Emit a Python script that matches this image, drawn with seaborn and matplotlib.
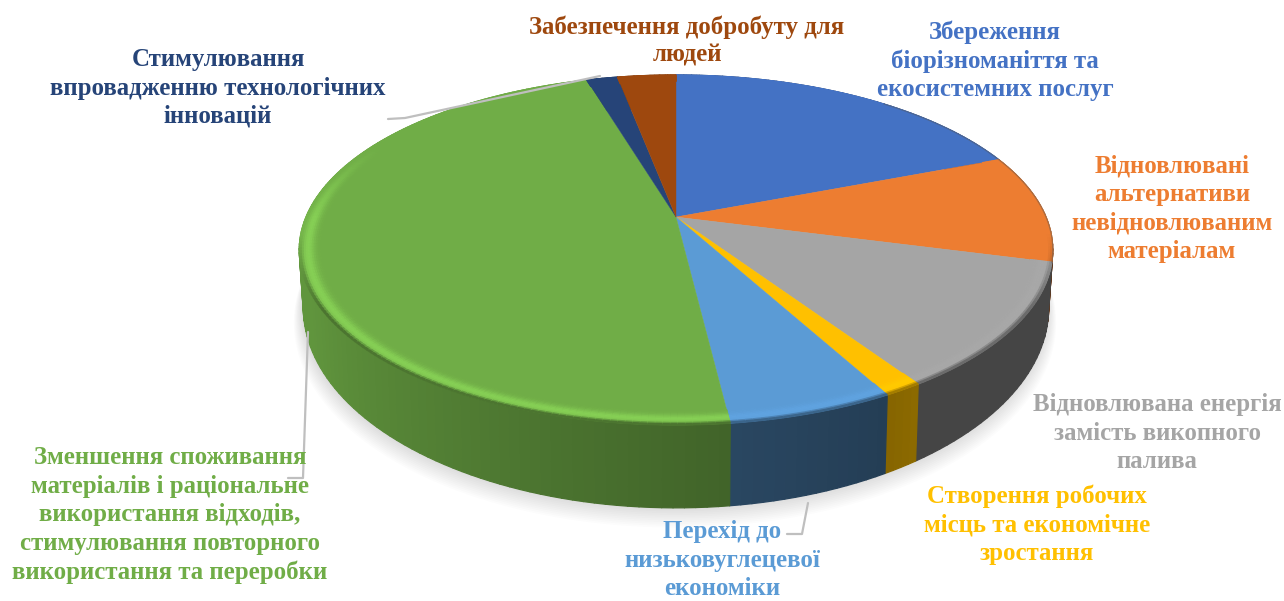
import numpy as np
import matplotlib
matplotlib.use("Agg")
import matplotlib.pyplot as plt
from matplotlib.collections import PolyCollection
import seaborn as sns

labels = [
    "Збереження\nбіорізноманіття та\nекосистемних послуг",
    "Відновлювані\nальтернативи\nневідновлюваним\nматеріалам",
    "Відновлювана енергія\nзамість викопного\nпалива",
    "Створення робочих\nмісць та економічне\nзростання",
    "Перехід до\nнизьковуглецевої\nекономіки",
    "Зменшення споживання\nматеріалів і раціональне\nвикористання відходів,\nстимулювання повторного\nвикористання та переробки",
    "Стимулювання\nвпровадженню технологічних\nінновацій",
    "Забезпечення добробуту для\nлюдей",
]
values = [19.1, 10.0, 11.6, 1.4, 6.0, 47.3, 1.6, 3.0]
colors = ["#4472C4", "#ED7D31", "#A5A5A5", "#FFC000", "#5B9BD5", "#70AD47", "#264478", "#9E480E"]

# side wall darkening at start / end of each slice
side_start = [0.45, 0.42, 0.42, 0.55, 0.40, 0.58, 0.6, 0.6]
side_end = [0.45, 0.42, 0.42, 0.52, 0.46, 1.25, 0.6, 0.6]
# how much the rim lights up, only the green one really does
rim_glow = [0.0, 0.0, 0.02, 0.05, 0.05, 0.2, 0.0, 0.0]

# label centre in pixels
label_pos = [(995, 61), (1172, 209), (1157, 433), (1037, 525), (722, 560), (170, 515), (218, 88), (687, 41)]

sns.set_theme(style="white")
plt.rcParams["font.family"] = ["Liberation Serif", "DejaVu Serif"]

W, H = 1284, 601
fig, ax = plt.subplots(figsize=(W / 100, H / 100), dpi=100)
ax.set_position([0, 0, 1, 1])
ax.set_xlim(0, W)
ax.set_ylim(H, 0)
ax.axis("off")

palette = sns.color_palette(colors)
CX, K = 676, 0.1886


def top_xy(th, r=1.0):
    u, v = r * np.sin(th), r * np.cos(th)
    d = 1 + K * v
    return CX + 370 * u / d, 217 - 168.8 * v / d


def bottom_xy(th, r=1.0):
    u, v = r * np.sin(th), r * np.cos(th)
    d = 1 + K * v
    return CX + 366 * u / d, 270 - 193 * v / d


def mix(c, other, t):
    return tuple((1 - t) * np.array(c) + t * np.array(other))


def add_quads(quads, cols, z):
    ax.add_collection(PolyCollection(quads, facecolors=cols, edgecolors=cols, linewidths=0.9, zorder=z))


edges = np.radians(np.concatenate([[0], np.cumsum(values)]) * 3.6)
full = np.linspace(0, 2 * np.pi, 400)

# soft shadow under the disc
for i in range(12):
    bx, by = bottom_xy(full, 1 + 0.002 * i)
    ax.fill(bx - 1, by + 1.2 * i, color="black", alpha=0.012, lw=0, zorder=1)

# side wall
quads, cols = [], []
for a, b, col, s0, s1 in zip(edges[:-1], edges[1:], palette, side_start, side_end):
    n = max(int((b - a) * 40), 4)
    th = np.linspace(a, b, n + 1)
    for i in range(n):
        x0, y0 = top_xy(th[i])
        x1, y1 = top_xy(th[i + 1])
        x2, y2 = bottom_xy(th[i + 1])
        x3, y3 = bottom_xy(th[i])
        f = min(s0 + (s1 - s0) * i / n, 0.86)
        quads.append([(x0, y0), (x1, y1), (x2, y2), (x3, y3)])
        cols.append(mix(col, (0, 0, 0), 1 - f))
add_quads(quads, cols, 2)

# top face
for a, b, col in zip(edges[:-1], edges[1:], palette):
    th = np.linspace(a, b, 120)
    x, y = top_xy(th)
    ax.fill(np.r_[CX, x], np.r_[217, y], color=col, lw=0.3, zorder=3)

# bevel along the rim, light on the front edge
rings = np.linspace(0.945, 1.0, 12)
quads, cols = [], []
for a, b, col, g in zip(edges[:-1], edges[1:], palette, rim_glow):
    n = max(int((b - a) * 60), 3)
    th = np.linspace(a, b, n + 1)
    for i in range(n):
        tm = 0.5 * (th[i] + th[i + 1])
        front = np.clip(0.45 - np.cos(tm), 0, 0.45) / 0.45
        front2 = np.clip(-0.1 - np.cos(tm), 0, 0.4) / 0.4
        for r0, r1 in zip(rings[:-1], rings[1:]):
            rm = 0.5 * (r0 + r1)
            t = (rm - rings[0]) / (rings[-1] - rings[0])
            glow = np.exp(-((t - 0.6) / 0.3) ** 2) * g * front
            shade = np.clip((t - 0.78) / 0.22, 0, 1) * 0.45 * front2
            c = np.clip(np.array(col) * (1 + glow), 0, 1)
            c = mix(c, (0, 0, 0), shade)
            x0, y0 = top_xy(th[i], r0)
            x1, y1 = top_xy(th[i + 1], r0)
            x2, y2 = top_xy(th[i + 1], r1)
            x3, y3 = top_xy(th[i], r1)
            quads.append([(x0, y0), (x1, y1), (x2, y2), (x3, y3)])
            cols.append(c)
add_quads(quads, cols, 4)

# thin dark fringe on the back right edge
th = np.linspace(np.radians(40), np.radians(105), 100)
ax.plot(*top_xy(th), color="#555555", lw=0.8, alpha=0.45, zorder=5)

# leader lines
leader = "#BFBFBF"
ax.plot([600, 405, 388], [76, 118, 119], color=leader, lw=1.6, zorder=6)
ax.plot([308, 303, 288], [332, 478, 478], color=leader, lw=1.6, zorder=6)
ax.plot([808, 802, 787], [503, 534, 534], color=leader, lw=1.6, zorder=6)

for text, (x, y), col in zip(labels, label_pos, palette):
    ax.text(x, y, text, color=col, fontsize=17.9, fontweight="bold", ha="center", va="center",
            linespacing=1.3, zorder=7)

fig.savefig("out.png", dpi=100)
